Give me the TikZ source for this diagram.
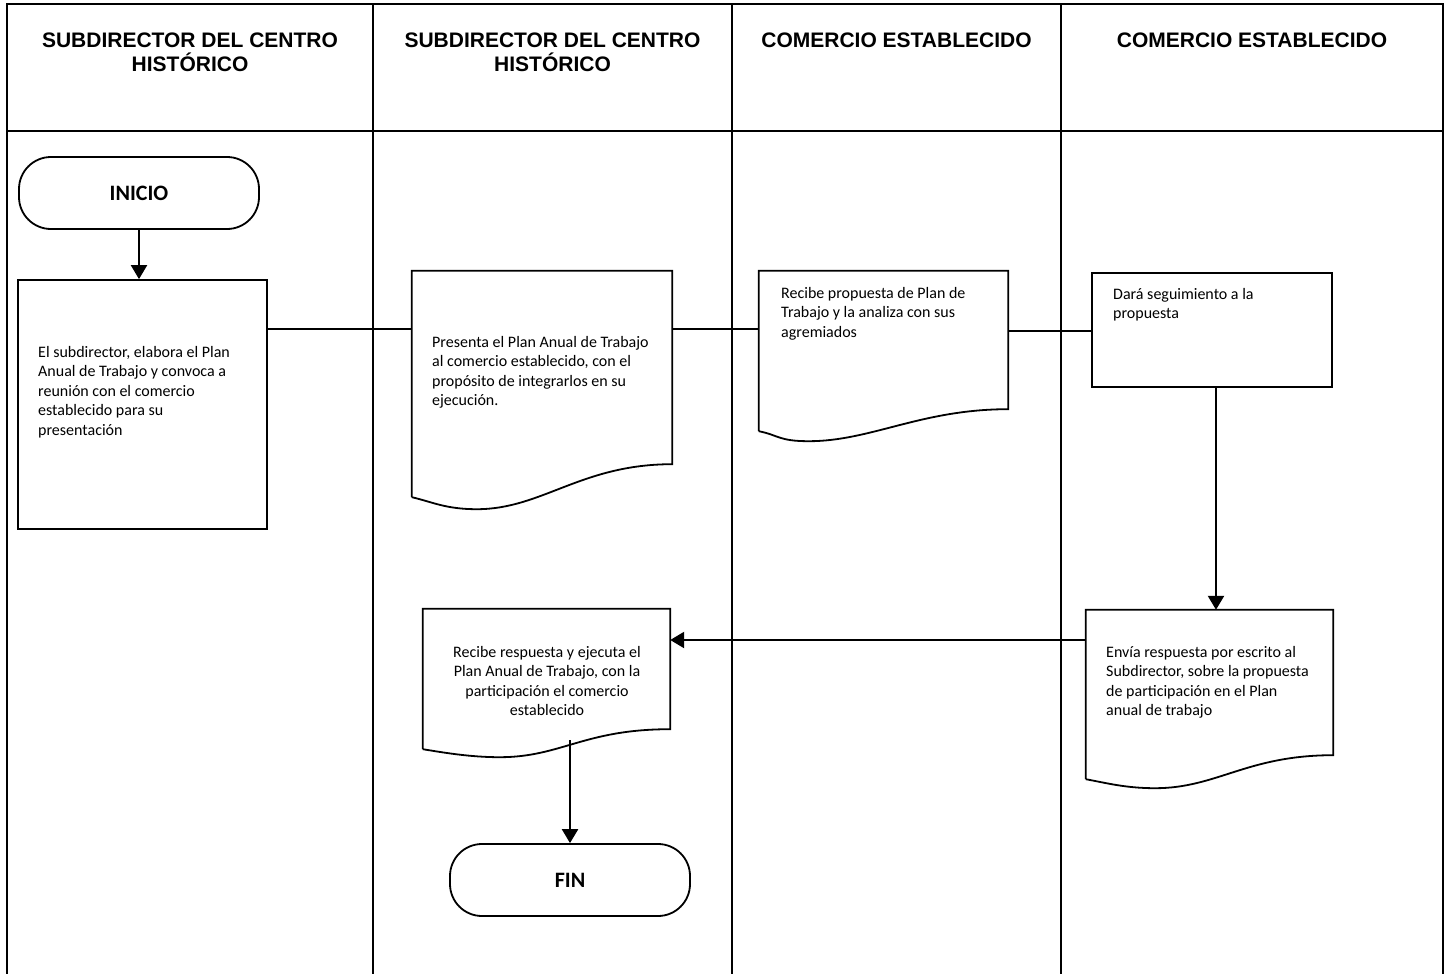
\documentclass[tikz,border=0pt]{standalone}
\usepackage{fontspec}
\setmainfont{Carlito}
\newfontfamily\headfont{Liberation Sans}
\usetikzlibrary{arrows.meta,calc}

% outline of a document shape: node, drop, dip, place of the dip
\newcommand{\docline}[4]{%
  \draw[shapeline] let \p1=(#1.south west), \p2=(#1.south east), \n1={\x2-\x1} in
    (\x1,\y1-#2pt) -- (#1.north west) -- (#1.north east) -- (#1.south east)
    .. controls (\x2-0.35*\n1,\y2) and (\x1+#4*\n1+0.25*\n1,\y1-#2pt-#3pt) .. (\x1+#4*\n1,\y1-#2pt-#3pt)
    .. controls (\x1+#4*\n1-0.12*\n1,\y1-#2pt-#3pt) and (\x1+0.08*\n1,\y1-#2pt-0.4*#3pt) .. (\x1,\y1-#2pt);}

\begin{document}
\begin{tikzpicture}
  [x=1pt,y=-1pt,
   frame/.style={line width=2.6pt},
   head/.style={anchor=north,inner sep=0pt,align=center,font=\headfont\bfseries\fontsize{21}{24}\selectfont},
   shapeline/.style={line width=1.8pt,line join=miter},
   proc/.style={draw,shapeline,rectangle,inner sep=0pt},
   docbox/.style={rectangle,inner sep=0pt},
   term/.style={draw,shapeline,rectangle,rounded corners=32pt,inner sep=0pt,font=\bfseries\fontsize{22}{26}\selectfont},
   txt/.style={anchor=north west,inner sep=0pt,align=left,font=\fontsize{16}{19.5}\selectfont},
   link/.style={line width=2pt},
   arrow/.style={line width=2.4pt,-{Triangle[width=16pt,length=14pt]}}]
  \useasboundingbox (0,0) rectangle (1446,974);

  % lanes
  \draw[frame] (7,974) -- (7,4) -- (1443,4) -- (1443,974);
  \draw[frame] (7,131) -- (1443,131);
  \foreach \x in {373,732,1061}
    \draw[frame] (\x,4) -- (\x,974);

  \node[head] (h1) at (190,33)   {SUBDIRECTOR DEL CENTRO\\HISTÓRICO};
  \node[head] (h2) at (552.5,33) {SUBDIRECTOR DEL CENTRO\\HISTÓRICO};
  \node[head] (h3) at (896.5,33) {COMERCIO ESTABLECIDO};
  \node[head] (h4) at (1252,33)  {COMERCIO ESTABLECIDO};

  % shapes
  \node[term] (inicio) at (139,193) [minimum width=240pt,minimum height=72pt] {INICIO};
  \node[proc] (b1) at (142.5,404.5) [minimum width=249pt,minimum height=249pt] {};
  \node[docbox] (d2) at (542,367.5) [minimum width=260pt,minimum height=193pt] {};
  \node[docbox] (d3) at (883.5,340) [minimum width=249pt,minimum height=138pt] {};
  \node[proc] (b4) at (1212,330) [minimum width=240pt,minimum height=114pt] {};
  \node[docbox] (d5) at (546.5,669) [minimum width=247pt,minimum height=120pt] {};
  \node[docbox] (d6) at (1209.5,682.5) [minimum width=247pt,minimum height=145pt] {};
  \node[term] (fin) at (570,880) [minimum width=240pt,minimum height=72pt] {FIN};

  \docline{d2}{33}{12}{0.25}
  \docline{d3}{22}{10}{0.2}
  \docline{d5}{20}{8}{0.31}
  \docline{d6}{24}{9}{0.28}

  % texts
  \node[txt] (t1) at (38,346) {El subdirector, elabora el Plan\\Anual de Trabajo y convoca a\\reunión con el comercio\\establecido para su\\presentación};
  \node[txt] (t2) at (432,336) {Presenta el Plan Anual de Trabajo\\al comercio establecido, con el\\propósito de integrarlos en su\\ejecución.};
  \node[txt] (t3) at (781,287) {Recibe propuesta de Plan de\\Trabajo y la analiza con sus\\agremiados};
  \node[txt] (t4) at (1113,288) {Dará seguimiento a la\\propuesta};
  \node[txt,anchor=north,align=center] (t5) at (547,646) {Recibe respuesta y ejecuta el\\Plan Anual de Trabajo, con la\\participación el comercio\\establecido};
  \node[txt] (t6) at (1106,646) {Envía respuesta por escrito al\\Subdirector, sobre la propuesta\\de participación en el Plan\\anual de trabajo};

  % connectors
  \draw[arrow] (inicio.south) -- (inicio.south |- b1.north);
  \foreach \from/\to/\y in {b1/d2/329,d2/d3/329,d3/b4/331}
    \draw[link] (\from.east |- 0,\y) -- (\to.west |- 0,\y);
  \draw[arrow] ([xshift=4pt]b4.south) -- ([xshift=4pt]b4.south |- d6.north);
  \draw[arrow] (d6.west |- 0,640) -- (d5.east |- 0,640);
  \draw[arrow] ([yshift=-11pt]fin.north |- d5.south) -- (fin.north);

\end{tikzpicture}
\end{document}
